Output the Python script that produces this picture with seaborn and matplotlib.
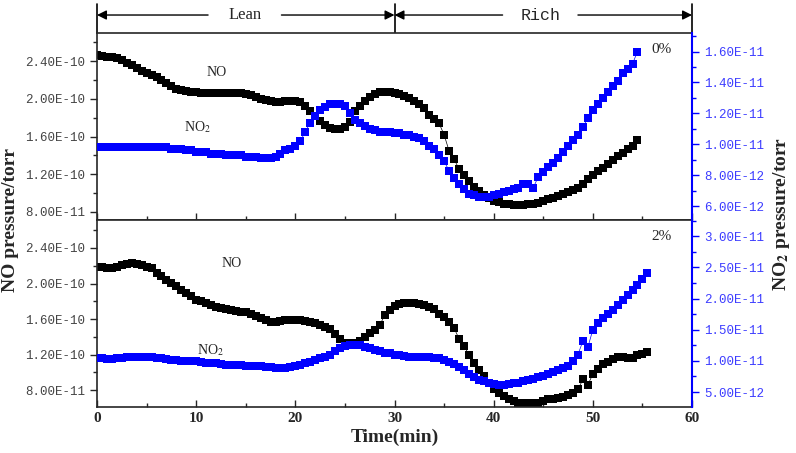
import numpy as np
import seaborn as sns
import matplotlib
matplotlib.use('Agg')
import matplotlib.pyplot as plt
from matplotlib.ticker import MultipleLocator, AutoMinorLocator, FuncFormatter

# NO in 1e-10 torr, NO2 in 1e-11 torr, sampled every 0.5 min
no_0 = [2.47, 2.46, 2.45, 2.44, 2.43, 2.41, 2.38, 2.36, 2.33, 2.30, 2.28, 2.25, 2.23, 2.20, 2.17, 2.14,
        2.11, 2.09, 2.08, 2.07, 2.07, 2.06, 2.06, 2.06, 2.06, 2.06, 2.06, 2.06, 2.06, 2.06, 2.05, 2.04,
        2.02, 2.00, 1.99, 1.98, 1.97, 1.97, 1.98, 1.98, 1.98, 1.97, 1.93, 1.87, 1.82, 1.77, 1.72, 1.69,
        1.68, 1.68, 1.70, 1.76, 1.87, 1.93, 1.98, 2.02, 2.05, 2.07, 2.07, 2.07, 2.06, 2.05, 2.03, 2.01,
        1.98, 1.95, 1.90, 1.83, 1.79, 1.74, 1.62, 1.45, 1.36, 1.26, 1.19, 1.13, 1.07, 1.02, 0.98, 0.95,
        0.92, 0.91, 0.89, 0.88, 0.87, 0.87, 0.87, 0.88, 0.88, 0.90, 0.92, 0.94, 0.95, 0.97, 0.99, 1.01,
        1.03, 1.05, 1.10, 1.15, 1.19, 1.23, 1.27, 1.31, 1.35, 1.39, 1.43, 1.47, 1.50, 1.56]
no2_0 = [0.98, 0.98, 0.98, 0.98, 0.98, 0.98, 0.98, 0.98, 0.98, 0.98, 0.98, 0.98, 0.98, 0.98, 0.98, 0.97,
         0.97, 0.97, 0.96, 0.96, 0.95, 0.95, 0.95, 0.94, 0.94, 0.94, 0.93, 0.93, 0.93, 0.93, 0.92, 0.92,
         0.92, 0.91, 0.91, 0.91, 0.92, 0.94, 0.96, 0.97, 0.99, 1.02, 1.08, 1.14, 1.18, 1.22, 1.24, 1.26,
         1.26, 1.26, 1.25, 1.20, 1.16, 1.14, 1.12, 1.10, 1.09, 1.08, 1.08, 1.08, 1.07, 1.07, 1.06, 1.06,
         1.05, 1.04, 1.02, 0.99, 0.97, 0.93, 0.89, 0.83, 0.78, 0.74, 0.71, 0.68, 0.67, 0.66, 0.66, 0.66,
         0.67, 0.68, 0.69, 0.70, 0.71, 0.72, 0.74, 0.74, 0.72, 0.79, 0.82, 0.85, 0.88, 0.91, 0.95, 0.99,
         1.03, 1.06, 1.11, 1.17, 1.22, 1.26, 1.30, 1.34, 1.38, 1.41, 1.46, 1.49, 1.52, 1.60]
no_2 = [2.19, 2.19, 2.18, 2.18, 2.19, 2.21, 2.22, 2.23, 2.22, 2.21, 2.19, 2.17, 2.12, 2.08, 2.04, 2.01,
        1.97, 1.93, 1.89, 1.86, 1.82, 1.80, 1.78, 1.76, 1.74, 1.72, 1.71, 1.70, 1.69, 1.68, 1.68, 1.66,
        1.63, 1.61, 1.59, 1.57, 1.57, 1.58, 1.59, 1.59, 1.59, 1.59, 1.58, 1.57, 1.55, 1.53, 1.51, 1.49,
        1.43, 1.37, 1.33, 1.33, 1.33, 1.35, 1.40, 1.44, 1.48, 1.53, 1.64, 1.70, 1.75, 1.77, 1.78, 1.78,
        1.78, 1.77, 1.76, 1.74, 1.71, 1.66, 1.62, 1.57, 1.50, 1.38, 1.30, 1.20, 1.10, 1.03, 0.96, 0.88,
        0.81, 0.77, 0.73, 0.70, 0.68, 0.66, 0.65, 0.65, 0.65, 0.66, 0.68, 0.70, 0.70, 0.71, 0.72, 0.74,
        0.77, 0.81, 0.92, 0.86, 0.98, 1.04, 1.09, 1.12, 1.15, 1.17, 1.17, 1.16, 1.16, 1.19, 1.21, 1.23]
no2_2 = [1.05, 1.04, 1.03, 1.03, 1.04, 1.05, 1.06, 1.07, 1.07, 1.07, 1.06, 1.06, 1.05, 1.04, 1.03, 1.02,
         1.01, 1.00, 1.00, 0.99, 0.99, 0.98, 0.97, 0.96, 0.96, 0.95, 0.94, 0.94, 0.93, 0.93, 0.92, 0.92,
         0.91, 0.91, 0.90, 0.90, 0.89, 0.89, 0.89, 0.90, 0.92, 0.94, 0.96, 0.98, 1.01, 1.04, 1.07, 1.10,
         1.16, 1.21, 1.24, 1.26, 1.26, 1.25, 1.23, 1.21, 1.18, 1.16, 1.13, 1.12, 1.10, 1.09, 1.08, 1.07,
         1.07, 1.06, 1.06, 1.06, 1.05, 1.04, 1.02, 0.98, 0.95, 0.90, 0.85, 0.79, 0.74, 0.70, 0.67, 0.65,
         0.63, 0.62, 0.62, 0.63, 0.64, 0.65, 0.67, 0.69, 0.71, 0.74, 0.76, 0.79, 0.82, 0.85, 0.88, 0.92,
         1.00, 1.10, 1.32, 1.22, 1.50, 1.60, 1.68, 1.76, 1.82, 1.90, 1.98, 2.06, 2.14, 2.22, 2.32, 2.41]

t_0 = 0.5 * np.arange(len(no_0))
t_2 = 0.5 * np.arange(len(no_2))

sns.set_style('ticks')
plt.rcParams['font.family'] = ['Liberation Serif', 'DejaVu Serif']
plt.rcParams['mathtext.fontset'] = 'stix'

BLUE = '#0000ff'
fmt = FuncFormatter(lambda v, p: f'{v:.2E}')

fig = plt.figure(figsize=(7.96, 4.53), dpi=100)
L, W = 97 / 796, 595 / 796
ax_head = fig.add_axes([L, 1 - 33 / 453, W, 29 / 453])
ax_top = fig.add_axes([L, 1 - 220 / 453, W, 187 / 453])
ax_bot = fig.add_axes([L, 1 - 407 / 453, W, 187 / 453])

# header with Lean / Rich arrows
ax_head.set_xlim(0, 60)
ax_head.set_ylim(0, 1)
ax_head.axis('off')
for xv in (0, 30, 60):
    ax_head.plot([xv, xv], [0, 1], color='black', lw=1.2, clip_on=False)
ap = dict(arrowstyle='-|>', color='black', lw=1.0, mutation_scale=14, shrinkA=0, shrinkB=0)
ya = 0.62
for a, b in [(11.2, 0), (18.6, 30), (40.9, 30), (48.5, 60)]:
    ax_head.annotate('', xy=(b, ya), xytext=(a, ya), arrowprops=ap)
ax_head.text(14.9, ya, 'Lean', ha='center', va='center', fontsize=12)
ax_head.text(44.7, ya, 'Rich', ha='center', va='center', fontsize=12, family='Liberation Mono')


def panel(ax, t, no, no2, ylim_l, ylim_r, step_r, label, bottom):
    sns.lineplot(x=t, y=np.array(no) * 1e-10, ax=ax, color='black', marker='s', markersize=5.5,
                 markeredgewidth=0, linewidth=0.5, estimator=None, sort=False)
    ax.set_xlim(0, 60)
    ax.set_ylim(*ylim_l)
    ax.yaxis.set_major_locator(MultipleLocator(4e-11))
    ax.yaxis.set_minor_locator(AutoMinorLocator(2))
    ax.yaxis.set_major_formatter(fmt)
    ax.xaxis.set_major_locator(MultipleLocator(10))
    ax.xaxis.set_minor_locator(MultipleLocator(5))
    ax.tick_params(axis='x', which='both', direction='in', length=5, width=1)
    ax.tick_params(axis='x', which='minor', length=3)
    ax.tick_params(axis='y', which='major', direction='out', length=5, width=1, labelsize=9,
                   labelcolor='#444444')
    ax.tick_params(axis='y', which='minor', direction='out', length=3, width=1)
    for lab in ax.get_yticklabels():
        lab.set_family('Liberation Mono')
    ax.spines['right'].set_visible(False)
    for s in ('left', 'top', 'bottom'):
        ax.spines[s].set_linewidth(1.2)
    ax.set_ylabel('')
    ax.set_xlabel('')
    if not bottom:
        ax.set_xticklabels([])

    ax2 = ax.twinx()
    sns.lineplot(x=t, y=np.array(no2) * 1e-11, ax=ax2, color=BLUE, marker='s', markersize=5.5,
                 markeredgewidth=0, linewidth=0.5, estimator=None, sort=False)
    ax2.set_ylim(*ylim_r)
    ax2.yaxis.set_major_locator(MultipleLocator(step_r))
    ax2.yaxis.set_minor_locator(AutoMinorLocator(2))
    ax2.yaxis.set_major_formatter(fmt)
    ax2.tick_params(axis='y', which='major', direction='out', length=5, width=1, colors=BLUE,
                    labelsize=9, labelcolor='#3c3cff')
    ax2.tick_params(axis='y', which='minor', direction='out', length=3, width=1, colors=BLUE)
    for lab in ax2.get_yticklabels():
        lab.set_family('Liberation Mono')
    ax2.spines['right'].set_color(BLUE)
    ax2.spines['right'].set_linewidth(1.5)
    for s in ('left', 'top', 'bottom'):
        ax2.spines[s].set_visible(False)
    ax2.set_ylabel('')
    ax2.text(0.965, 0.91, label, transform=ax.transAxes, ha='right', va='center', fontsize=11)
    return ax2


top2 = panel(ax_top, t_0, no_0, no2_0, (0.715e-10, 2.70e-10), (5.1e-12, 1.72e-11), 2e-12, '0%', False)
bot2 = panel(ax_bot, t_2, no_2, no2_2, (0.61e-10, 2.715e-10), (2.6e-12, 3.26e-11), 5e-12, '2%', True)

ax_top.text(12.1, 2.28e-10, 'NO', ha='center', va='center', fontsize=10)
ax_top.text(10.1, 1.70e-10, 'NO$_2$', ha='center', va='center', fontsize=10)
ax_bot.text(13.6, 2.23e-10, 'NO', ha='center', va='center', fontsize=10)
ax_bot.text(11.4, 1.25e-10, 'NO$_2$', ha='center', va='center', fontsize=10)

for lab in ax_bot.get_xticklabels():
    lab.set_fontweight('bold')
    lab.set_fontsize(11)

fig.text(395 / 796, 1 - 437 / 453, 'Time(min)', ha='center', va='center', fontsize=14, fontweight='bold')
fig.text(11 / 796, 1 - 220 / 453, 'NO pressure/torr', ha='center', va='center', rotation=90,
         fontsize=14, fontweight='bold')
fig.text(782 / 796, 1 - 214 / 453, r'NO$_\mathbf{2}$ pressure/torr', ha='center', va='center', rotation=90,
         fontsize=14, fontweight='bold')

fig.savefig('out.png', dpi=100)
